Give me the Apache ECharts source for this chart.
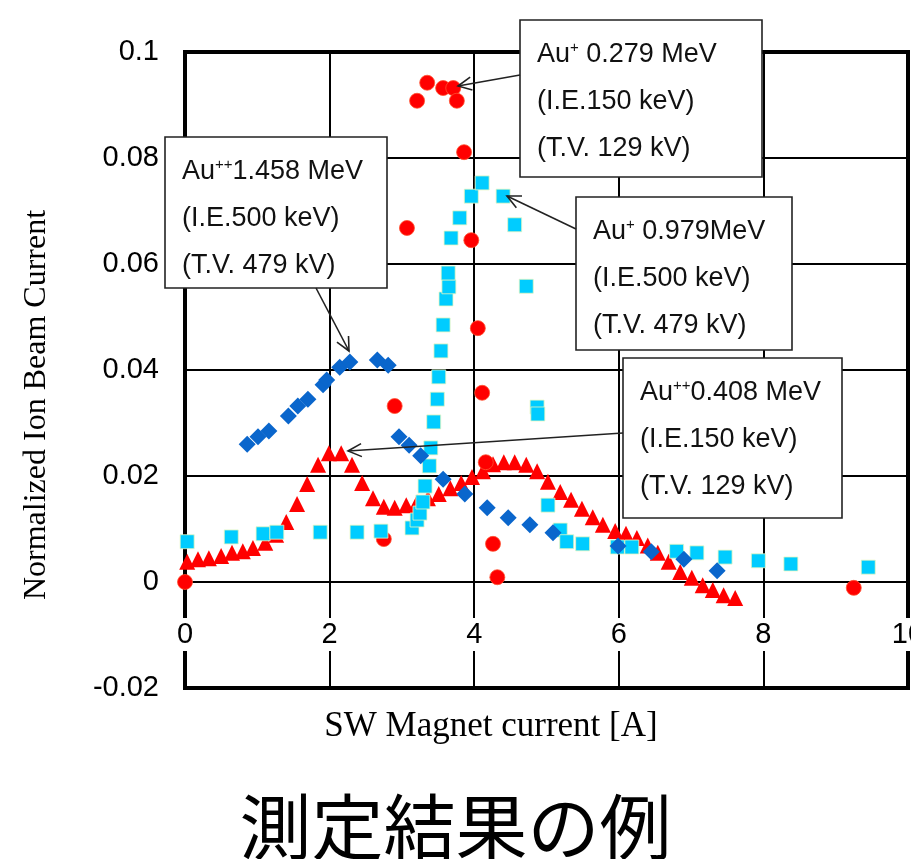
<!DOCTYPE html>
<html>
<head>
<meta charset="utf-8">
<script src="https://cdn.jsdelivr.net/npm/echarts@6/dist/echarts.min.js"></script>
<style>
  html, body { margin: 0; padding: 0; background: #fff; }
  #chart { width: 911px; height: 859px; }
</style>
</head>
<body>
<div id="chart"></div>
<script>
// Au++ 0.408 MeV (I.E.150 keV) - red triangles
const tri408X = [0.03, 0.18, 0.33, 0.50, 0.65, 0.80, 0.94, 1.11, 1.26, 1.40, 1.55, 1.69, 1.84, 1.99, 2.16, 2.31, 2.45, 2.60, 2.75, 2.90,
  3.06, 3.21, 3.36, 3.51, 3.67, 3.82, 3.97, 4.12, 4.26, 4.41, 4.56, 4.72, 4.87, 5.02, 5.19, 5.34, 5.49, 5.64, 5.78, 5.95,
  6.10, 6.25, 6.40, 6.54, 6.69, 6.85, 7.01, 7.16, 7.30, 7.45, 7.61]
const tri408Y = [0.0038, 0.0043, 0.0045, 0.0049, 0.0055, 0.0058, 0.0064, 0.0074, 0.0089, 0.0113, 0.0147, 0.0185, 0.0221, 0.0243, 0.0243, 0.0221, 0.0187, 0.0158, 0.0142, 0.0140,
  0.0145, 0.0150, 0.0158, 0.0166, 0.0177, 0.0187, 0.0198, 0.0209, 0.0222, 0.0226, 0.0226, 0.0221, 0.0209, 0.0189, 0.0170, 0.0155, 0.0138, 0.0122, 0.0108, 0.0096,
  0.0091, 0.0083, 0.0069, 0.0055, 0.0038, 0.0019, 0.0008, -0.0006, -0.0015, -0.0025, -0.0030]

// Au+ 0.279 MeV (I.E.150 keV) - red circles
const circ279X = [0, 2.75, 2.90, 3.07, 3.21, 3.35, 3.57, 3.71, 3.76, 3.86, 3.96, 4.05, 4.11, 4.16, 4.26, 4.32, 9.25]
const circ279Y = [0, 0.0081, 0.0332, 0.0668, 0.0908, 0.0942, 0.0932, 0.0932, 0.0908, 0.0811, 0.0645, 0.0479, 0.0357, 0.0226, 0.0072, 0.0009, -0.0011]

// Au+ 0.979 MeV (I.E.500 keV) - cyan squares
const sq979X = [0.03, 0.64, 1.08, 1.27, 1.87, 2.38, 2.71, 3.14, 3.21, 3.25, 3.29, 3.32, 3.38, 3.40, 3.44, 3.49, 3.51, 3.54, 3.57, 3.61,
  3.65, 3.64, 3.68, 3.80, 3.96, 4.11, 4.40, 4.56, 4.72, 4.87, 4.88, 5.02, 5.19, 5.28, 5.50, 5.98, 6.18, 6.80, 7.08, 7.47,
  7.93, 8.38, 9.45]
const sq979Y = [0.0076, 0.0085, 0.0091, 0.0094, 0.0094, 0.0094, 0.0096, 0.0102, 0.0117, 0.0130, 0.0151, 0.0181, 0.0219, 0.0253, 0.0302, 0.0345, 0.0387, 0.0436, 0.0485, 0.0534,
  0.0557, 0.0583, 0.0649, 0.0687, 0.0728, 0.0753, 0.0728, 0.0674, 0.0558, 0.0330, 0.0317, 0.0145, 0.0098, 0.0076, 0.0072, 0.0066, 0.0066, 0.0058, 0.0055, 0.0047,
  0.0040, 0.0034, 0.0028]

// Au++ 1.458 MeV (I.E.500 keV) - blue diamonds
const dia1458X = [0.86, 1.01, 1.16, 1.43, 1.56, 1.70, 1.91, 1.96, 2.14, 2.28, 2.66, 2.81, 2.96, 3.10, 3.26, 3.57, 3.87, 4.18, 4.47, 4.77,
  5.09, 5.99, 6.45, 6.90, 7.36]
const dia1458Y = [0.0260, 0.0274, 0.0285, 0.0313, 0.0332, 0.0345, 0.0372, 0.0381, 0.0405, 0.0415, 0.0419, 0.0409, 0.0274, 0.0258, 0.0238, 0.0194, 0.0166, 0.0140, 0.0121, 0.0108,
  0.0093, 0.0068, 0.0057, 0.0043, 0.0021]

const xTicks = { min: 0, max: 10, interval: 2 }
const yTicks = { min: -0.02, max: 0.1, interval: 0.02 }

const zip = (xs, ys) => xs.map((x, i) => [x, ys[i]])

const SANS = '"Liberation Sans", Arial, sans-serif'
const SERIF = '"Liberation Serif", "Times New Roman", serif'

// callout boxes: [left, top, width, height], text lines, arrow [from, to] in px
const callouts = [
  { box: [520, 20, 242, 157], sup: '+', lines: [' 0.279 MeV', '(I.E.150 keV)', '(T.V. 129 kV)'], arrow: [[520, 75], [458, 86]] },
  { box: [165, 137, 222, 151], sup: '++', lines: ['1.458 MeV', '(I.E.500 keV)', '(T.V. 479 kV)'], arrow: [[316, 288], [349, 351]] },
  { box: [576, 197, 216, 153], sup: '+', lines: [' 0.979MeV', '(I.E.500 keV)', '(T.V. 479 kV)'], arrow: [[576, 229], [507, 196]] },
  { box: [623, 358, 219, 160], sup: '++', lines: ['0.408 MeV', '(I.E.150 keV)', '(T.V. 129 kV)'], arrow: [[623, 433], [348, 451]] },
]

function arrowShapes(from, to) {
  const ang = Math.atan2(to[1] - from[1], to[0] - from[0])
  const len = 15, spread = 0.45
  const p1 = [to[0] - len * Math.cos(ang - spread), to[1] - len * Math.sin(ang - spread)]
  const p2 = [to[0] - len * Math.cos(ang + spread), to[1] - len * Math.sin(ang + spread)]
  const st = { stroke: '#222', lineWidth: 1.6, fill: null }
  return [
    { type: 'line', shape: { x1: from[0], y1: from[1], x2: to[0], y2: to[1] }, style: st, z: 100 },
    { type: 'polyline', shape: { points: [p1, to, p2] }, style: st, z: 100 },
  ]
}

const graphics = []
callouts.forEach(c => {
  const [x, y, w, h] = c.box
  graphics.push({ type: 'rect', shape: { x, y, width: w, height: h }, style: { fill: '#fff', stroke: '#222', lineWidth: 1.6 }, z: 100 })
  const lineY = [y + 35, y + 82, y + 129]
  const tx = x + 17
  graphics.push({
    type: 'text', x: tx, y: lineY[0], z: 101,
    style: {
      text: '{a|Au}{s|' + c.sup + '}{a|' + c.lines[0] + '}',
      verticalAlign: 'middle',
      rich: {
        a: { fontSize: 27, fontFamily: SANS, fill: '#111', lineHeight: 30 },
        s: { fontSize: 15, fontFamily: SANS, fill: '#111', verticalAlign: 'top', lineHeight: 30 },
      },
    },
  })
  for (let i = 1; i < 3; i++) {
    graphics.push({
      type: 'text', x: tx, y: lineY[i], z: 101,
      style: { text: c.lines[i], fontSize: 27, fontFamily: SANS, fill: '#111', verticalAlign: 'middle' },
    })
  }
  graphics.push(...arrowShapes(c.arrow[0], c.arrow[1]))
})

// axis titles, placed as in the original figure (not centred on the plot)
graphics.push({
  type: 'text', x: 37, y: 405, rotation: Math.PI / 2, z: 50,
  style: { text: 'Normalized Ion Beam Current', fontSize: 32, fontFamily: SERIF, fill: '#000', align: 'center', verticalAlign: 'middle' },
})
graphics.push({
  type: 'text', x: 491, y: 727, z: 50,
  style: { text: 'SW Magnet current [A]', fontSize: 35, fontFamily: SERIF, fill: '#000', align: 'center', verticalAlign: 'middle' },
})

const chart = echarts.init(document.getElementById('chart'))
chart.setOption({
  animation: false,
  backgroundColor: '#fff',
  title: {
    text: '測定結果の例',
    left: 'center',
    top: 786,
    textStyle: { fontSize: 72, fontWeight: 'normal', color: '#000', fontFamily: '"Noto Sans CJK JP", sans-serif' },
  },
  grid: {
    left: 185, right: 3, top: 52, bottom: 171,
    outerBoundsMode: 'none', containLabel: false,
    show: true, borderColor: '#000', borderWidth: 4,
  },
  xAxis: {
    type: 'value', ...xTicks,
    offset: -106, // axis sits on the y = 0 line
    axisLine: { onZero: false, lineStyle: { color: '#000', width: 2 } },
    axisTick: { show: false },
    axisLabel: { fontSize: 29, fontFamily: SANS, color: '#000', margin: 36, backgroundColor: '#fff', padding: [2, 3] },
    splitLine: { show: true, lineStyle: { color: '#000', width: 2 } },
  },
  yAxis: {
    type: 'value', ...yTicks,
    axisLine: { show: true, onZero: false, lineStyle: { color: '#000', width: 4 } },
    axisTick: { show: false },
    axisLabel: { fontSize: 29, fontFamily: SANS, color: '#000', margin: 26 },
    splitLine: { show: true, lineStyle: { color: '#000', width: 2 } },
  },
  series: [
    { name: 'Au++ 0.408 MeV', type: 'scatter', symbol: 'triangle', symbolSize: 16, data: zip(tri408X, tri408Y), itemStyle: { color: '#ff0000', opacity: 1 } },
    { name: 'Au+ 0.279 MeV', type: 'scatter', symbol: 'circle', symbolSize: 15, data: zip(circ279X, circ279Y), itemStyle: { color: '#ff0000', borderColor: '#ff5030', borderWidth: 0.8, opacity: 1 } },
    { name: 'Au+ 0.979 MeV', type: 'scatter', symbol: 'rect', symbolSize: 14, data: zip(sq979X, sq979Y), itemStyle: { color: '#00ccff', borderColor: '#e8f8c0', borderWidth: 0.8, opacity: 1 } },
    { name: 'Au++ 1.458 MeV', type: 'scatter', symbol: 'diamond', symbolSize: 17, data: zip(dia1458X, dia1458Y), itemStyle: { color: '#0a66cc', opacity: 1 } },
  ],
  graphic: graphics,
})
</script>
</body>
</html>
